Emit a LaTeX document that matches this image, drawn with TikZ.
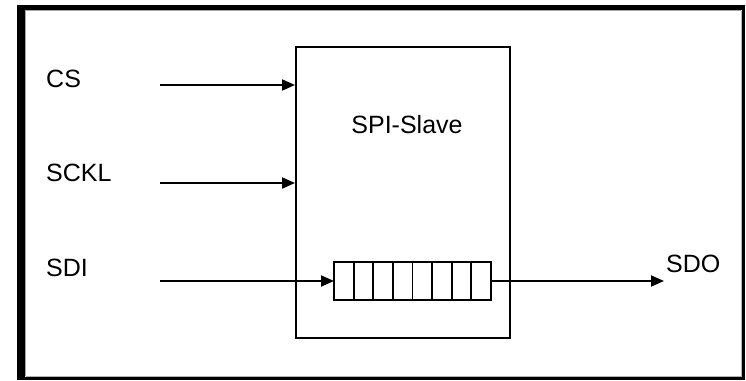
\documentclass[tikz,border=0pt]{standalone}
\usepackage{fontspec}
\setmainfont{Liberation Sans}
\usetikzlibrary{arrows.meta,positioning}
\tikzset{
  lbl/.style={font=\fontsize{25}{30}\selectfont, inner sep=0pt},
  sig/.style={line width=1.8pt, -{Triangle[length=13pt,width=11pt]}},
  plain/.style={line width=1.8pt},
  blockbox/.style={draw, line width=2pt, minimum width=214pt, minimum height=291pt, inner sep=0pt},
  cell/.style={draw, line width=1.8pt, minimum width=19.625pt, minimum height=38pt, inner sep=0pt, outer sep=0pt, anchor=west}
}
\begin{document}
\begin{tikzpicture}[x=1pt,y=-1pt]
  \useasboundingbox (0,0) rectangle (746,380);
  % sunken frame
  \fill[black] (17,5) rectangle (745,380);
  \fill[white] (25,10) rectangle (742,377);
  \draw[gray!70, line width=1pt] (25.5,376) -- (25.5,10.5) -- (741,10.5);
  \draw[gray!60, line width=1pt] (26,376.5) -- (741.5,376.5) -- (741.5,11);

  % main block
  \node[blockbox] (slave) at (403,192.5) {};
  \node[lbl] (title) at (407,125) {SPI-Slave};

  % shift register
  \node[cell] (c1) at (334,281) {};
  \foreach \i [count=\j from 1] in {2,...,8} {
    \node[cell, right=0pt of c\j] (c\i) {};
  }

  % inputs
  \node[lbl, anchor=west] (cs) at (46,79) {CS};
  \node[lbl, anchor=west] (sckl) at (46,173) {SCKL};
  \node[lbl, anchor=west] (sdi) at (46,268) {SDI};
  \coordinate (csin) at (160,85);
  \coordinate (scin) at (160,183);
  \coordinate (sdin) at (160,281);
  \draw[sig] (csin) -- (csin -| slave.west);
  \draw[sig] (scin) -- (scin -| slave.west);
  \draw[sig] (sdin) -- (c1.west);

  % output
  \coordinate (sdout) at (664,281);
  \draw[sig] (c8.east) -- (sdout);
  \node[lbl, anchor=west] (sdo) at (666,264) {SDO};
\end{tikzpicture}
\end{document}
